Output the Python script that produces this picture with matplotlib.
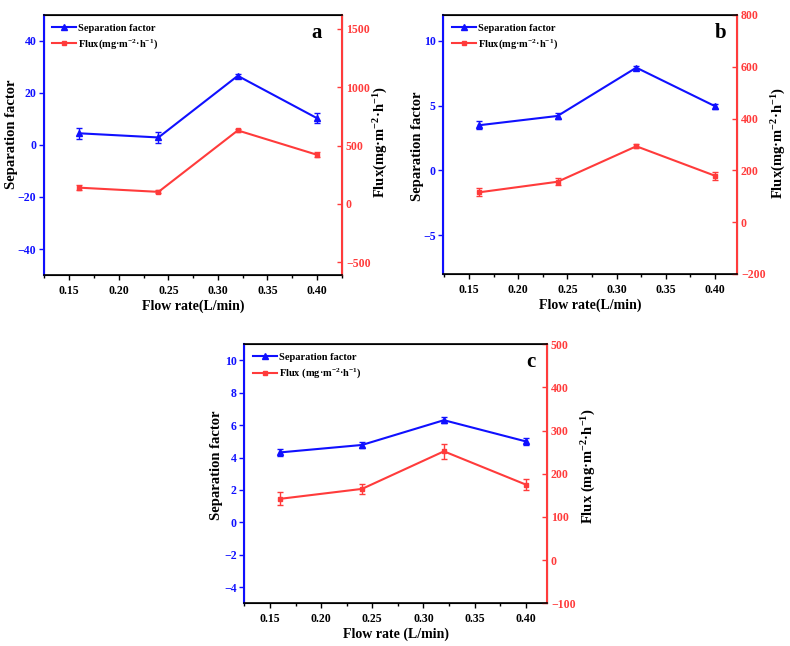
import matplotlib
matplotlib.use('Agg')
import matplotlib.pyplot as plt
from matplotlib.lines import Line2D
from matplotlib.ticker import MultipleLocator, AutoMinorLocator, FormatStrFormatter

plt.rcParams['font.family'] = ['Liberation Serif', 'DejaVu Serif']
plt.rcParams['font.weight'] = 'bold'
plt.rcParams['mathtext.fontset'] = 'custom'
plt.rcParams['mathtext.rm'] = 'Liberation Serif:bold'
plt.rcParams['mathtext.bf'] = 'Liberation Serif:bold'
plt.rcParams['mathtext.default'] = 'regular'

flow = [0.16, 0.24, 0.32, 0.40]

# panel a
sep_a = [4.5, 2.9, 26.6, 10.3]
sep_a_err = [2.2, 2.0, 0.6, 2.0]
flux_a = [139, 103, 630, 421]
flux_a_err = [20, 12, 12, 20]

# panel b
sep_b = [3.48, 4.2, 7.93, 4.95]
sep_b_err = [0.3, 0.2, 0.12, 0.2]
flux_b = [115, 156, 293, 179]
flux_b_err = [15, 14, 8, 15]

# panel c
sep_c = [4.32, 4.78, 6.31, 5.0]
sep_c_err = [0.2, 0.18, 0.2, 0.2]
flux_c = [142, 165, 252, 175]
flux_c_err = [15, 12, 17, 12]

BLUE = '#1010ff'
RED = '#ff3b3b'

panels = [
    dict(pos=[0.0557, 0.5743, 0.377, 0.4025], sep=sep_a, se=sep_a_err, flux=flux_a, fe=flux_a_err,
         ylim=(-50, 50), ystep=20, rlim=(-610, 1620), rstep=500, xlim=(0.1245, 0.425),
         letter='a', lxy=(0.916, 0.93), lcoord=(-0.087, 0.54), rcoord=(1.102, 0.51),
         flux_lab='Flux(mg·m$^{-2}$·h$^{-1}$)', xlab='Flow rate(L/min)'),
    dict(pos=[0.5612, 0.5759, 0.3714, 0.401], sep=sep_b, se=sep_b_err, flux=flux_b, fe=flux_b_err,
         ylim=(-8, 12), ystep=5, rlim=(-200, 800), rstep=200, xlim=(0.124, 0.422),
         letter='b', lxy=(0.946, 0.93), lcoord=(-0.066, 0.494), rcoord=(1.113, 0.504),
         flux_lab='Flux(mg·m$^{-2}$·h$^{-1}$)', xlab='Flow rate(L/min)'),
    dict(pos=[0.3093, 0.0661, 0.3828, 0.401], sep=sep_c, se=sep_c_err, flux=flux_c, fe=flux_c_err,
         ylim=(-5, 11), ystep=2, rlim=(-100, 500), rstep=100, xlim=(0.125, 0.4205),
         letter='c', lxy=(0.948, 0.93), lcoord=(-0.070, 0.534), rcoord=(1.110, 0.531),
         flux_lab='Flux (mg·m$^{-2}$·h$^{-1}$)', xlab='Flow rate (L/min)'),
]

fig = plt.figure(figsize=(7.9, 6.46), dpi=100)

for p in panels:
    ax = fig.add_axes(p['pos'])
    ax2 = ax.twinx()
    ax.errorbar(flow, p['sep'], yerr=p['se'], color=BLUE, marker='^', markersize=4,
                linewidth=1.5, capsize=2.5, elinewidth=1)
    ax2.errorbar(flow, p['flux'], yerr=p['fe'], color=RED, marker='s', markersize=3.5,
                 linewidth=1.5, capsize=2.5, elinewidth=1)
    ax.set_xlim(*p['xlim'])
    ax.set_ylim(*p['ylim'])
    ax2.set_ylim(*p['rlim'])
    ax.xaxis.set_major_locator(MultipleLocator(0.05))
    ax.xaxis.set_minor_locator(AutoMinorLocator(2))
    ax.yaxis.set_major_locator(MultipleLocator(p['ystep']))
    ax2.yaxis.set_major_locator(MultipleLocator(p['rstep']))
    ax.xaxis.set_major_formatter(FormatStrFormatter('%.2f'))

    ax.tick_params(axis='x', direction='out', length=3.5, width=1, labelsize=8.5, colors='black')
    ax.tick_params(axis='x', which='minor', direction='out', length=2, width=1)
    ax.tick_params(axis='y', direction='out', length=3.5, width=1, labelsize=8.5, colors=BLUE, pad=2)
    ax2.tick_params(axis='y', direction='in', length=3.5, width=1, labelsize=8.5, colors=RED, pad=3)

    for s in ['top', 'bottom']:
        ax2.spines[s].set_color('black')
        ax2.spines[s].set_linewidth(1.2)
    ax2.spines['left'].set_color(BLUE)
    ax2.spines['left'].set_linewidth(1.5)
    ax2.spines['right'].set_color(RED)
    ax2.spines['right'].set_linewidth(1.5)

    ax.set_xlabel(p['xlab'], fontsize=10, fontweight='bold', labelpad=2)
    ax.set_ylabel('Separation factor', fontsize=10.5, fontweight='bold')
    ax.yaxis.set_label_coords(*p['lcoord'])
    ax2.set_ylabel(p['flux_lab'], fontsize=10.5, fontweight='bold')
    ax2.yaxis.set_label_coords(*p['rcoord'])

    ax.text(p['lxy'][0], p['lxy'][1], p['letter'], transform=ax.transAxes, fontsize=15,
            fontweight='bold', ha='center', va='center')
    handles = [Line2D([], [], color=BLUE, marker='^', markersize=4, linewidth=1.5),
               Line2D([], [], color=RED, marker='s', markersize=3.5, linewidth=1.5)]
    ax2.legend(handles, ['Separation factor', p['flux_lab']], loc='upper left',
               frameon=False, handlelength=2.3, borderaxespad=0.4,
               handletextpad=0.2, labelspacing=0.45, prop={'weight': 'bold', 'size': 7.5})

fig.savefig('out.png', dpi=100)
